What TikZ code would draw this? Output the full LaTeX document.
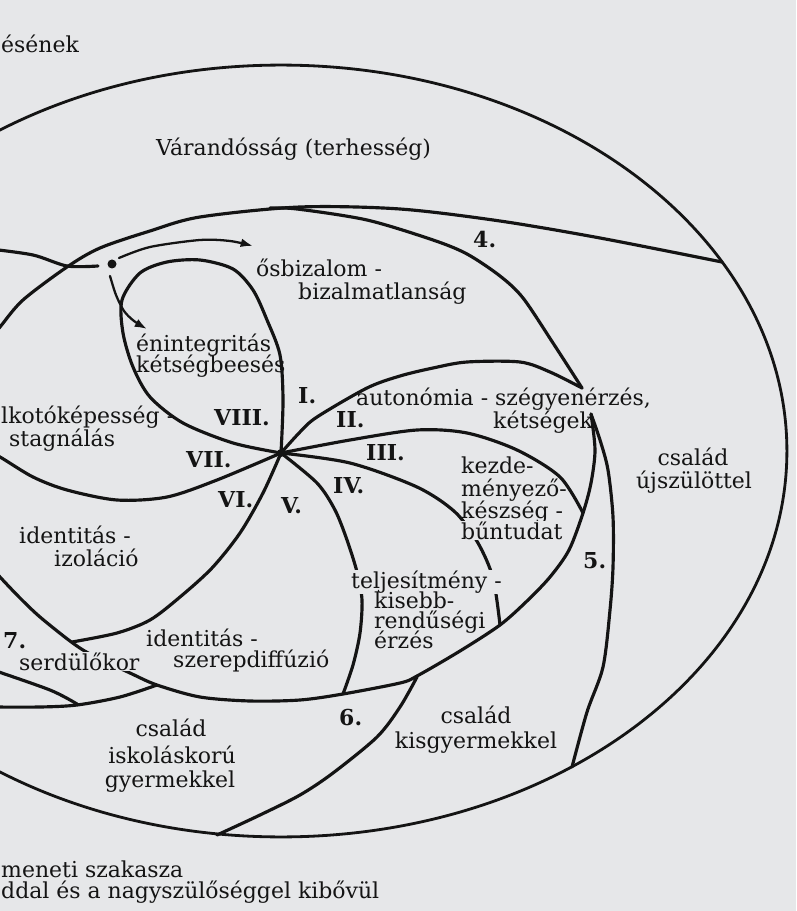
\documentclass[tikz,border=0pt]{standalone}
\usepackage{fontspec}
\setmainfont{DejaVu Serif}
\usetikzlibrary{arrows.meta}
\definecolor{paper}{HTML}{E6E7E9}
\definecolor{ink}{HTML}{141414}
\tikzset{
  rim/.style={draw=ink,line width=1.6pt,line cap=round,line join=round},
  arm/.style={rim,line width=1.8pt},
  pointer/.style={draw=ink,line width=1.3pt,line cap=round,-{Latex[length=7pt,width=5pt]}},
  lbl/.style={font=\fontsize{12.5}{12}\selectfont,text=ink,inner sep=0.5pt,anchor=base west},
  mid/.style={lbl,anchor=base},
  mask/.style={lbl,fill=paper},
  num/.style={lbl,font=\fontsize{12.5}{12}\selectfont\bfseries}
}
\begin{document}
\begin{tikzpicture}[x=0.02cm,y=-0.02cm]
\useasboundingbox (0,0) rectangle (796,911);
\fill[paper] (0,0) rectangle (796,911);
\clip (0,0) rectangle (796,911);

\coordinate (hub) at (281,453);
\coordinate (dot) at (112,264);
\coordinate (cusp) at (582,388);
\coordinate (fork) at (591,414);

% family cycle
\draw[rim] (281,451) ellipse [x radius=10.12cm, y radius=7.72cm];
\draw[arm] plot[smooth] coordinates {(722,262) (600,238) (500,221) (400,209) (300,207) (200,217) (150,231) (100,248) (67,267) (23,300) (0,327) (-20,352)};
\draw[arm] plot[smooth] coordinates {(270,208) (297,209) (367,220) (433,240) (467,254) (500,276) (523,298) (553,343) (cusp)};
\draw[arm] plot[smooth] coordinates {(fork) (595,450) (591,483) (583,513) (569,550) (550,577) (527,601) (500,625) (460,651) (417,676) (400,683) (343,694) (300,700) (250,701) (200,697) (157,685) (130,673) (90,654) (70,641) (40,617) (20,598) (0,577) (-15,560)};
\draw[arm] plot[smooth] coordinates {(fork) (600,440) (608,470) (613,517) (613,567) (610,610) (603,667) (587,712) (572,767)};
\draw[arm] plot[smooth] coordinates {(417,677) (400,707) (377,737) (333,773) (300,795) (260,815) (217,835)};
\draw[arm] plot[smooth] coordinates {(-10,669) (50,690) (77,704)};
\draw[arm] plot[smooth] coordinates {(-10,707) (40,707) (77,705) (120,697) (157,685)};
\draw[arm] plot[smooth] coordinates {(-10,249) (33,255) (67,266) (98,266)};

% life stages
\draw[arm] plot[smooth] coordinates {(hub) (283,400) (280,355) (267,320) (253,290) (233,269) (200,260) (167,262) (140,273) (122,300) (123,333) (133,367) (150,397) (183,423) (233,443) (hub)};
\draw[arm] plot[smooth] coordinates {(hub) (300,432) (317,417) (367,388) (400,376) (433,368) (467,362) (520,362) (550,372) (cusp)};
\draw[arm] plot[smooth] coordinates {(hub) (350,440) (417,430) (467,433) (517,450) (560,477) (583,513)};
\draw[arm] plot[smooth] coordinates {(hub) (350,463) (417,487) (455,512) (478,543) (493,578) (500,625)};
\draw[arm] plot[smooth] coordinates {(hub) (317,483) (335,510) (347,540) (357,572) (362,600) (360,633) (353,665) (343,694)};
\draw[arm] plot[smooth] coordinates {(hub) (263,493) (240,533) (212,568) (180,597) (150,620) (117,633) (72,642)};
\draw[arm] plot[smooth] coordinates {(hub) (217,480) (167,497) (117,500) (67,490) (33,477) (0,457) (-20,447)};
\fill[ink] (hub) circle (0.08cm);

\fill[ink] (dot) circle (0.09cm);
\draw[pointer] plot[smooth] coordinates {(119,258) (150,247) (200,240) (230,241) (253,246)};
\draw[pointer] plot[smooth] coordinates {(110,276) (116,295) (124,311) (134,321) (147,329)};

\node[lbl] (esenek) at (0,53) {ésének};
\node[lbl] (pregnancy) at (155,156) {Várandósság (terhesség)};
\node[num] (st4) at (472,248) {4.};
\node[lbl] (trustA) at (255,277) {ősbizalom -};
\node[lbl] (trustB) at (297,300) {bizalmatlanság};
\node[lbl] (integA) at (135,352) {énintegritás};
\node[lbl] (integB) at (135,373) {kétségbeesés};
\node[num] (rI) at (297,403) {I.};
\node[num] (rII) at (335,427) {II.};
\node[num] (rIII) at (365,460) {III.};
\node[num] (rIV) at (332,493) {IV.};
\node[num] (rV) at (280,513) {V.};
\node[num] (rVI) at (217,507) {VI.};
\node[num] (rVII) at (185,467) {VII.};
\node[num] (rVIII) at (213,425) {VIII.};
\node[lbl] (autoA) at (355,405) {autonómia - szégyenérzés,};
\node[lbl] (autoB) at (492,428) {kétségek};
\node[lbl] (initA) at (460,473) {kezde-};
\node[lbl] (initB) at (460,496) {ményező-};
\node[lbl] (initC) at (460,518) {készség -};
\node[mask] (initD) at (460,539) {bűntudat};
\node[mid] (newbornA) at (693,465) {család};
\node[mid] (newbornB) at (694,488) {újszülöttel};
\node[num] (st5) at (582,568) {5.};
\node[mask] (indA) at (350,588) {teljesítmény -};
\node[lbl] (indB) at (373,608) {kisebb-};
\node[lbl] (indC) at (373,628) {rendűségi};
\node[lbl] (indD) at (373,648) {érzés};
\node[lbl] (genA) at (0,423) {lkotóképesség -};
\node[lbl] (genB) at (8,446) {stagnálás};
\node[lbl] (intimA) at (18,543) {identitás -};
\node[lbl] (intimB) at (53,566) {izoláció};
\node[num] (st7) at (2,648) {7.};
\node[mask] (adol) at (18,670) {serdülőkor};
\node[lbl] (identA) at (145,646) {identitás -};
\node[lbl] (identB) at (172,667) {szerepdiffúzió};
\node[num] (st6) at (338,725) {6.};
\node[mid] (youngA) at (476,723) {család};
\node[mid] (youngB) at (476,748) {kisgyermekkel};
\node[mid] (schoolA) at (171,736) {család};
\node[mid] (schoolB) at (172,763) {iskoláskorú};
\node[mid] (schoolC) at (170,787) {gyermekkel};
\node[lbl] (transA) at (0,877) {meneti szakasza};
\node[lbl] (transB) at (0,898) {ddal és a nagyszülőséggel kibővül};
\end{tikzpicture}
\end{document}
